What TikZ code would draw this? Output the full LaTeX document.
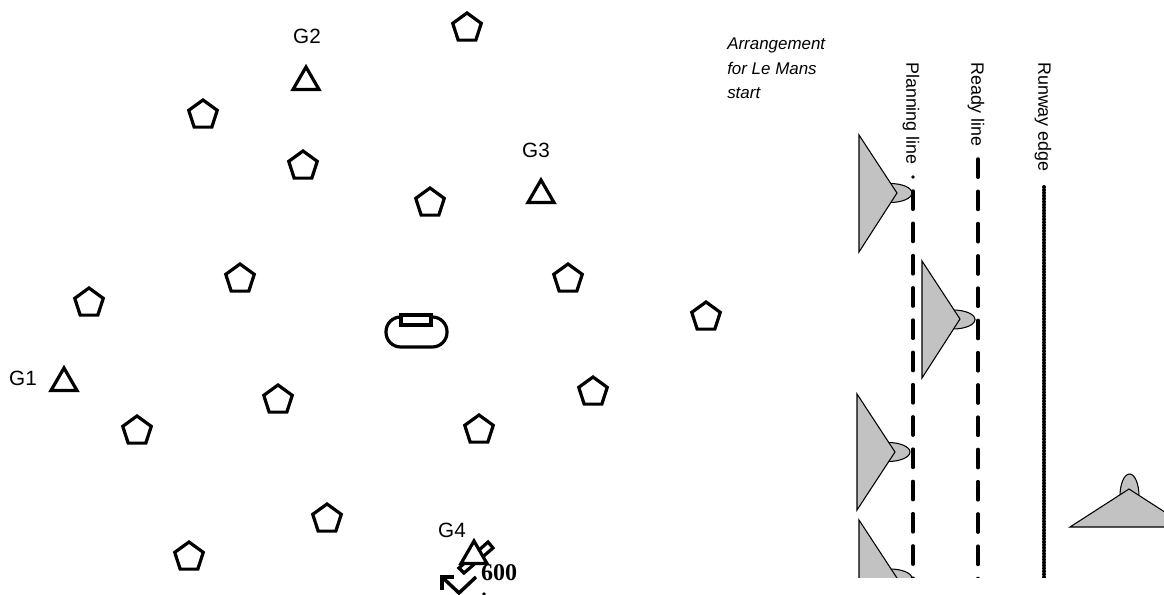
\documentclass[tikz,border=0pt]{standalone}
\usepackage{fontspec}
\setmainfont{Liberation Sans}
\newfontfamily\serifb{Liberation Serif}[BoldFont={Liberation Serif Bold}]
\usetikzlibrary{shapes.geometric}
\definecolor{planefill}{gray}{0.76}
\tikzset{
  x=0.75pt,y=-0.75pt,
  pent/.style={regular polygon,regular polygon sides=5,draw=black,line width=2.4pt,minimum size=22.5pt,inner sep=0pt},
  tri/.style={regular polygon,regular polygon sides=3,draw=black,fill=white,line width=2.4pt,minimum size=22.5pt,inner sep=0pt},
  lab/.style={font=\fontsize{15.5}{18}\selectfont,inner sep=0pt},
  ital/.style={font=\fontsize{12.7}{18.4}\selectfont\itshape,inner sep=0pt,align=left,anchor=north west},
  rot/.style={font=\fontsize{13.4}{15}\selectfont,inner sep=0pt,rotate=-90,anchor=west},
  dashline/.style={line width=2.6pt,line cap=round,dash pattern=on 13.7pt off 10.5pt},
  edgeline/.style={line width=3pt,black,line cap=round,dash pattern=on 0pt off 2.2pt},
  plane/.style={draw=black,line width=0.8pt,fill=planefill}
}
\begin{document}
\begin{tikzpicture}
\useasboundingbox (0,0) rectangle (1164,595);
\foreach \n/\a/\b in {p1/467/28,p2/203/115,p3/303/166,p4/430/203,p5/240/279,p6/89/303,p7/568/279,p8/706/317,p9/593/392,p10/278/400,p11/137/431,p12/479/430,p13/327/519,p14/189/557}
  \node[pent] (\n) at (\a,\b) {};
\node[tri] (t1) at (64,383) {};
\node[tri] (t2) at (306,82) {};
\node[tri] (t3) at (541,195) {};
\node[lab] (g1) at (23,378) {G1};
\node[lab] (g2) at (307,36) {G2};
\node[lab] (g3) at (536,150) {G3};
\node[lab] (g4) at (452,530) {G4};
% track
\draw[line width=2.4pt,rounded corners=11pt] (386,317) rectangle (447,347);
\draw[line width=2.4pt,fill=white] (401,315) rectangle (431,325);
% G4 parcel
\draw[line width=2.4pt,fill=white] (459,568) -- (488,542) -- (493,548) -- (464,573) -- cycle;
\node[tri] (t4) at (474,556) {};
\node[inner sep=0pt,font=\serifb\bfseries\fontsize{18}{20}\selectfont] (six) at (499,573) {600};
\draw[line width=2.6pt] (442,577) -- (459,593) -- (476,577);
\draw[line width=2.6pt] (454,577) -- (442,577) -- (442,590);
\fill (484,594) circle (1.8);
% caption
\node[ital] (cap) at (727,38) {Arrangement\\for Le Mans\\start};
\node[rot] (pl) at (911,62) {Planning line};
\node[rot] (rl) at (976,62) {Ready line};
\node[rot] (re) at (1043,62) {Runway edge};
% clipped right part
\begin{scope}
\clip (840,0) rectangle (1164,577);
\coordinate (a1) at (913,191);
\coordinate (a2) at (913,600);
\coordinate (b1) at (978,159);
\coordinate (b2) at (978,600);
\coordinate (c1) at (1044,187);
\coordinate (c2) at (1044,600);
\draw[plane] (890,193) ellipse (22 and 9.5);
\draw[plane] (859,135) -- (897,193) -- (859,252) -- cycle;
\draw[plane] (953,319.5) ellipse (22 and 9.5);
\draw[plane] (922,261) -- (960,319) -- (922,378) -- cycle;
\draw[plane] (888,452) ellipse (22 and 9.5);
\draw[plane] (857,394) -- (895,452) -- (857,510) -- cycle;
\draw[plane] (890,578.5) ellipse (22 and 9.5);
\draw[plane] (859,520) -- (897,578) -- (859,636) -- cycle;
\draw[plane] (1129.5,496) ellipse (9.5 and 22);
\draw[plane] (1070,527) -- (1129,489) -- (1188,527) -- cycle;
\draw[dashline] (a1) -- (a2);
\fill (913,177) circle (1.8);
\draw[dashline] (b1) -- (b2);
\draw[edgeline] (c1) -- (c2);
\end{scope}
\end{tikzpicture}
\end{document}
